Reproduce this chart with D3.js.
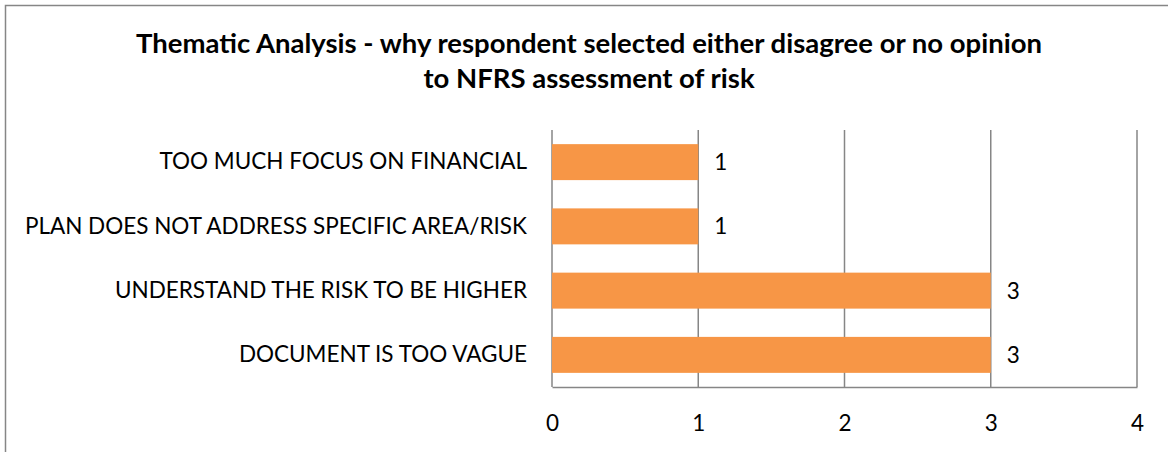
<!DOCTYPE html>
<html>
<head>
<meta charset="utf-8">
<script src="https://d3js.org/d3.v7.min.js"></script>
<style>
  body { margin: 0; background: #fff; }
  svg text { font-family: Lato, "Open Sans", sans-serif; fill: #000; }
</style>
</head>
<body>
<div id="chart"></div>
<script>
// chart data
var categories = [
  "TOO MUCH FOCUS ON FINANCIAL",
  "PLAN DOES NOT ADDRESS SPECIFIC AREA/RISK",
  "UNDERSTAND THE RISK TO BE HIGHER",
  "DOCUMENT IS TOO VAGUE"
];
var counts = [1, 1, 3, 3];
var xTicks = [0, 1, 2, 3, 4];
var titleLines = [
  "Thematic Analysis - why respondent selected either disagree or no opinion",
  "to NFRS assessment of risk"
];

var W = 1168, H = 452;
var margin = {left: 552, right: 31, top: 130, bottom: 65};

var svg = d3.select("#chart")
    .append("svg")
    .attr("width", W)
    .attr("height", H);

// chart border
svg.append("rect")
    .attr("x", 5.5)
    .attr("y", 5.5)
    .attr("width", W + 10)
    .attr("height", H + 10)
    .attr("fill", "none")
    .attr("stroke", "#868686")
    .attr("stroke-width", 1.5);

var x = d3.scaleLinear()
    .domain([0, 4])
    .range([margin.left, W - margin.right]);

var y = d3.scaleBand()
    .domain(categories)
    .range([margin.top, H - margin.bottom])
    .paddingInner(0.44)
    .paddingOuter(0.22);

// gridlines
svg.selectAll("line.grid")
    .data(xTicks)
    .enter()
    .append("line")
    .attr("class", "grid")
    .attr("x1", function(d){ return x(d); })
    .attr("x2", function(d){ return x(d); })
    .attr("y1", margin.top)
    .attr("y2", H - margin.bottom)
    .attr("stroke", "#868686")
    .attr("stroke-width", 1.5);

// bottom axis
var xAxis = d3.axisBottom(x)
    .tickValues(xTicks)
    .tickSize(0)
    .tickPadding(28)
    .tickFormat(d3.format("d"));

var gx = svg.append("g")
    .attr("transform", "translate(0," + (H - margin.bottom) + ")")
    .call(xAxis);
gx.select(".domain")
    .attr("stroke", "#868686")
    .attr("stroke-width", 1.5);
gx.selectAll("text")
    .style("font-size", "22.5px");

// left axis labels
var yAxis = d3.axisLeft(y)
    .tickSize(0)
    .tickPadding(25);

var gy = svg.append("g")
    .attr("transform", "translate(" + margin.left + ",0)")
    .call(yAxis);
gy.select(".domain").remove();
gy.selectAll("text")
    .style("font-size", "22.5px");

// bars
svg.selectAll("rect.bar")
    .data(categories)
    .enter()
    .append("rect")
    .attr("class", "bar")
    .attr("x", x(0))
    .attr("y", function(d){ return y(d); })
    .attr("width", function(d,i){ return x(counts[i]) - x(0); })
    .attr("height", y.bandwidth())
    .attr("fill", "#F79646");

// value labels
svg.selectAll("text.val")
    .data(categories)
    .enter()
    .append("text")
    .attr("class", "val")
    .attr("x", function(d,i){ return x(counts[i]) + 16; })
    .attr("y", function(d){ return y(d) + y.bandwidth() / 2; })
    .attr("dy", "0.35em")
    .style("font-size", "22.5px")
    .text(function(d,i){ return counts[i]; });

// title
svg.selectAll("text.title")
    .data(titleLines)
    .enter()
    .append("text")
    .attr("class", "title")
    .attr("x", 589)
    .attr("y", function(d,i){ return 53 + i * 35; })
    .attr("text-anchor", "middle")
    .style("font-size", "27.5px")
    .style("font-weight", "bold")
    .text(function(d){ return d; });
</script>
</body>
</html>
